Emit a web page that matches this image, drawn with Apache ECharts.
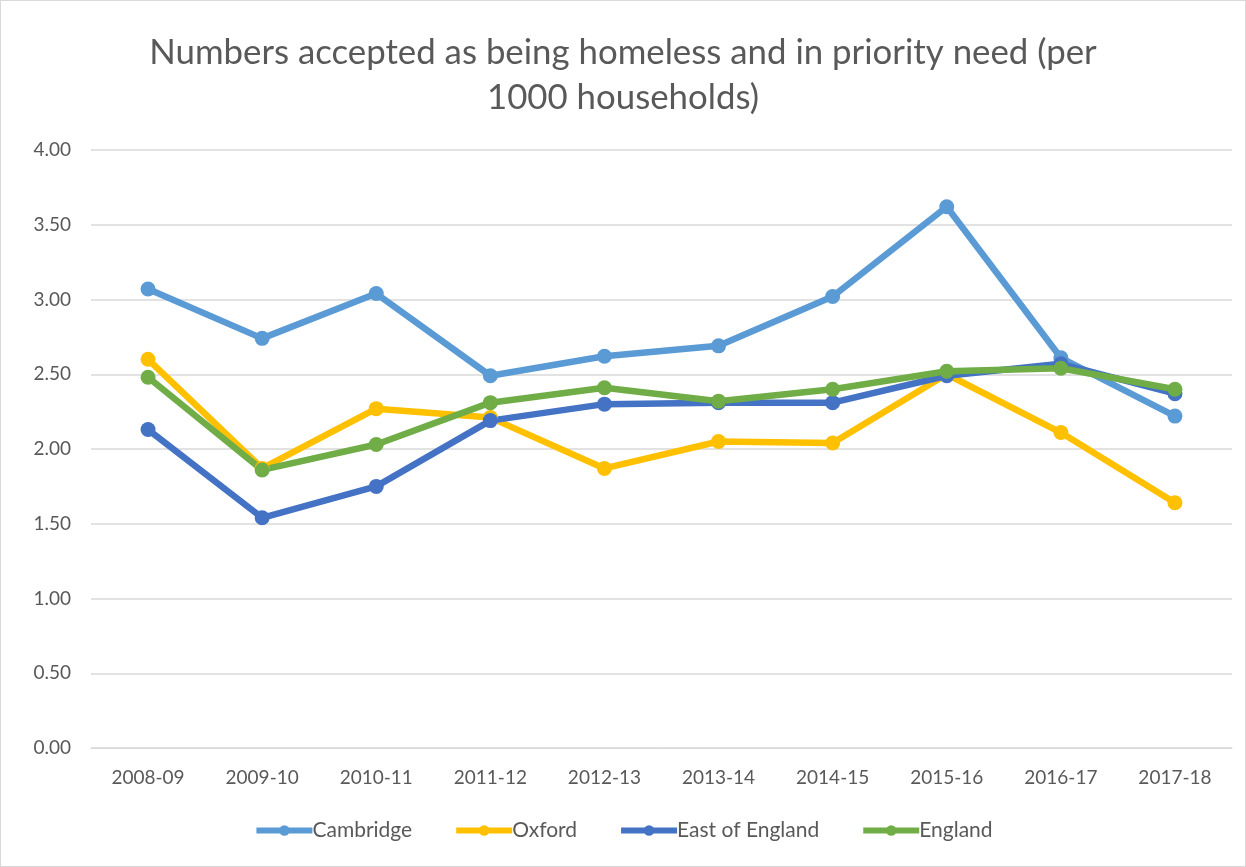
<!DOCTYPE html>
<html><head><meta charset="utf-8">
<script src="https://cdn.jsdelivr.net/npm/echarts@6/dist/echarts.min.js"></script>
<style>
html,body{margin:0;padding:0;background:#fff;}
#c{position:absolute;left:0;top:0;width:1244px;height:865px;border:1px solid #d9d9d9;}
</style></head><body>
<div id="c"></div>
<script>
const categories = ['2008-09','2009-10','2010-11','2011-12','2012-13','2013-14','2014-15','2015-16','2016-17','2017-18'];
const cambridge = [3.07,2.74,3.04,2.49,2.62,2.69,3.02,3.62,2.61,2.22];
const oxford = [2.60,1.87,2.27,2.21,1.87,2.05,2.04,2.50,2.11,1.64];
const eastOfEngland = [2.13,1.54,1.75,2.19,2.30,2.31,2.31,2.49,2.57,2.37];
const england = [2.48,1.86,2.03,2.31,2.41,2.32,2.40,2.52,2.54,2.40];
const seriesNames = ['Cambridge','Oxford','East of England','England'];
const colors = ['#5B9BD5','#FFC000','#4472C4','#70AD47'];
const font = 'Lato,"Open Sans",sans-serif';
const chart = echarts.init(document.getElementById('c'));
const mk = (name, data, color) => ({
  name, type:'line', data, symbol:'circle', symbolSize:15,
  lineStyle:{width:6.5,color}, itemStyle:{color}, emphasis:{disabled:true}
});
chart.setOption({
  animation:false,
  title:{text:'Numbers accepted as being homeless and in priority need (per\n1000 households)',
    left:'center', top:24,
    textStyle:{fontFamily:font,fontSize:34.8,fontWeight:'normal',color:'#595959',lineHeight:45}},
  grid:{left:90,right:13,top:149,bottom:118},
  xAxis:{type:'category',data:categories,boundaryGap:true,
    axisLine:{lineStyle:{color:'#d9d9d9',width:1}},axisTick:{show:false},
    axisLabel:{fontFamily:font,fontSize:19,color:'#595959',margin:20}},
  yAxis:{type:'value',min:0,max:4,interval:0.5,
    axisLine:{show:false},axisTick:{show:false},
    splitLine:{lineStyle:{color:'#d9d9d9',width:1.5}},
    axisLabel:{fontFamily:font,fontSize:19,color:'#595959',margin:20,formatter:v=>v.toFixed(2)}},
  legend:{data:seriesNames.map(n=>({name:n,lineStyle:{width:6}})),bottom:20,left:'center',itemWidth:56,itemHeight:13,itemGap:41,
    lineStyle:{width:6},
    textStyle:{fontFamily:font,fontSize:21,color:'#595959',padding:[0,0,0,-5]}},
  series:[mk(seriesNames[0],cambridge,colors[0]),mk(seriesNames[1],oxford,colors[1]),
    mk(seriesNames[2],eastOfEngland,colors[2]),mk(seriesNames[3],england,colors[3])]
});
</script></body></html>
